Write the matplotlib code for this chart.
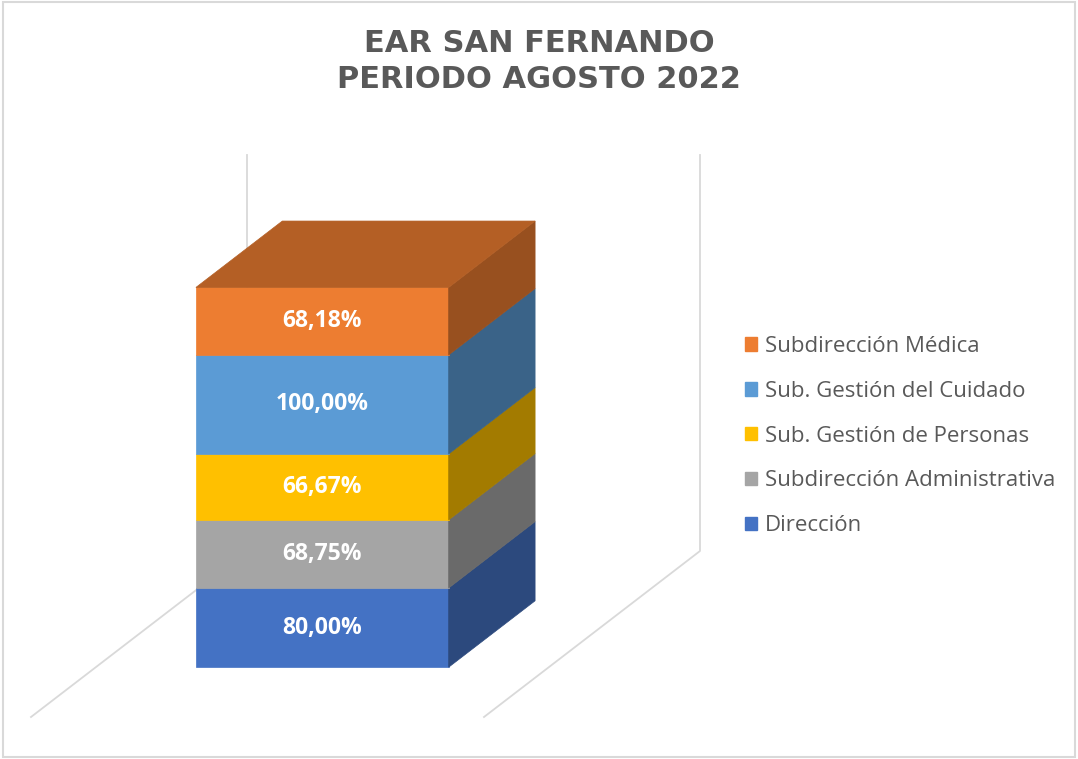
import matplotlib
matplotlib.use("Agg")
import matplotlib.pyplot as plt
from matplotlib.patches import Polygon, Patch, Rectangle
import matplotlib.colors as mcolors

plt.rcParams['font.family'] = ['Open Sans', 'DejaVu Sans']

# data
categories = ["Dirección", "Subdirección Administrativa", "Sub. Gestión de Personas",
              "Sub. Gestión del Cuidado", "Subdirección Médica"]
values = [80.00, 68.75, 66.67, 100.00, 68.18]
colors = ["#4472C4", "#A5A5A5", "#FFC000", "#5B9BD5", "#ED7D31"]
title_lines = ["EAR SAN FERNANDO", "PERIODO AGOSTO 2022"]
y_max = 400

W, H = 1078, 759
k = 0.99                       # pixels per percent unit
cat_w = 453 / k                # width of category slot (front floor edge)
depth = (216 / k, 166 / k)     # oblique depth vector of the floor
bar_x0, bar_x1 = 0.221, 0.779  # bar inside slot
z0, z1 = 0.30, 0.70            # bar depth inside floor


def shade(c, f):
    r, g, b = mcolors.to_rgb(c)
    return (r * f, g * f, b * f)


def proj(x, z, y):
    # x in slot fraction, z in depth fraction, y in percent
    return (x * cat_w + z * depth[0], y + z * depth[1])


fig = plt.figure(figsize=(W / 100, H / 100), dpi=100)
ax = fig.add_axes([0, 0, 1, 1])
ax.set_xlim(-31 / k, (W - 31) / k)
ax.set_ylim(-(H - 717) / k, 717 / k)
ax.axis('off')

grid_c = "#d9d9d9"
for gx in [0, 1]:
    p0 = proj(gx, 0, 0)
    p1 = proj(gx, 1, 0)
    p2 = proj(gx, 1, y_max)
    ax.plot([p0[0], p1[0], p2[0]], [p0[1], p1[1], p2[1]], color=grid_c, lw=1.3, zorder=1)

bottom = 0
for i, (v, c) in enumerate(zip(values, colors)):
    top = bottom + v
    front = [proj(bar_x0, z0, bottom), proj(bar_x1, z0, bottom),
             proj(bar_x1, z0, top), proj(bar_x0, z0, top)]
    side = [proj(bar_x1, z0, bottom), proj(bar_x1, z1, bottom),
            proj(bar_x1, z1, top), proj(bar_x1, z0, top)]
    ax.add_patch(Polygon(front, closed=True, facecolor=c, edgecolor=c, lw=0.5, zorder=3))
    ax.add_patch(Polygon(side, closed=True, facecolor=shade(c, 0.64),
                         edgecolor=shade(c, 0.64), lw=0.5, zorder=3))
    if i == len(values) - 1:
        topf = [proj(bar_x0, z0, top), proj(bar_x1, z0, top),
                proj(bar_x1, z1, top), proj(bar_x0, z1, top)]
        ax.add_patch(Polygon(topf, closed=True, facecolor=shade(c, 0.76),
                             edgecolor=shade(c, 0.76), lw=0.5, zorder=3))
    cx, cy = proj((bar_x0 + bar_x1) / 2, z0, (bottom + top) / 2)
    ax.text(cx, cy, f"{v:.2f}%".replace('.', ','), color='white', fontsize=16.5,
            fontweight='bold', ha='center', va='center', zorder=4)
    bottom = top

fig.text(0.5, 1 - 44 / H, title_lines[0], ha='center', va='center', fontsize=22,
         fontweight='bold', color='#595959', family='DejaVu Sans')
fig.text(0.5, 1 - 79 / H, title_lines[1], ha='center', va='center', fontsize=22,
         fontweight='bold', color='#595959', family='DejaVu Sans')

handles = [Patch(facecolor=c, edgecolor=c) for c in colors][::-1]
fig.legend(handles, categories[::-1], loc='center left',
           bbox_to_anchor=(725 / W, 1 - 436 / H), frameon=False, fontsize=16,
           labelcolor='#595959', handlelength=0.55, handleheight=0.55,
           handletextpad=0.35, labelspacing=1.07)

fig.add_artist(Rectangle((3 / W, 2 / H), 1072 / W, 755 / H, transform=fig.transFigure,
                         fill=False, edgecolor='#d9d9d9', lw=1.5))

fig.savefig("out.png", dpi=100)
